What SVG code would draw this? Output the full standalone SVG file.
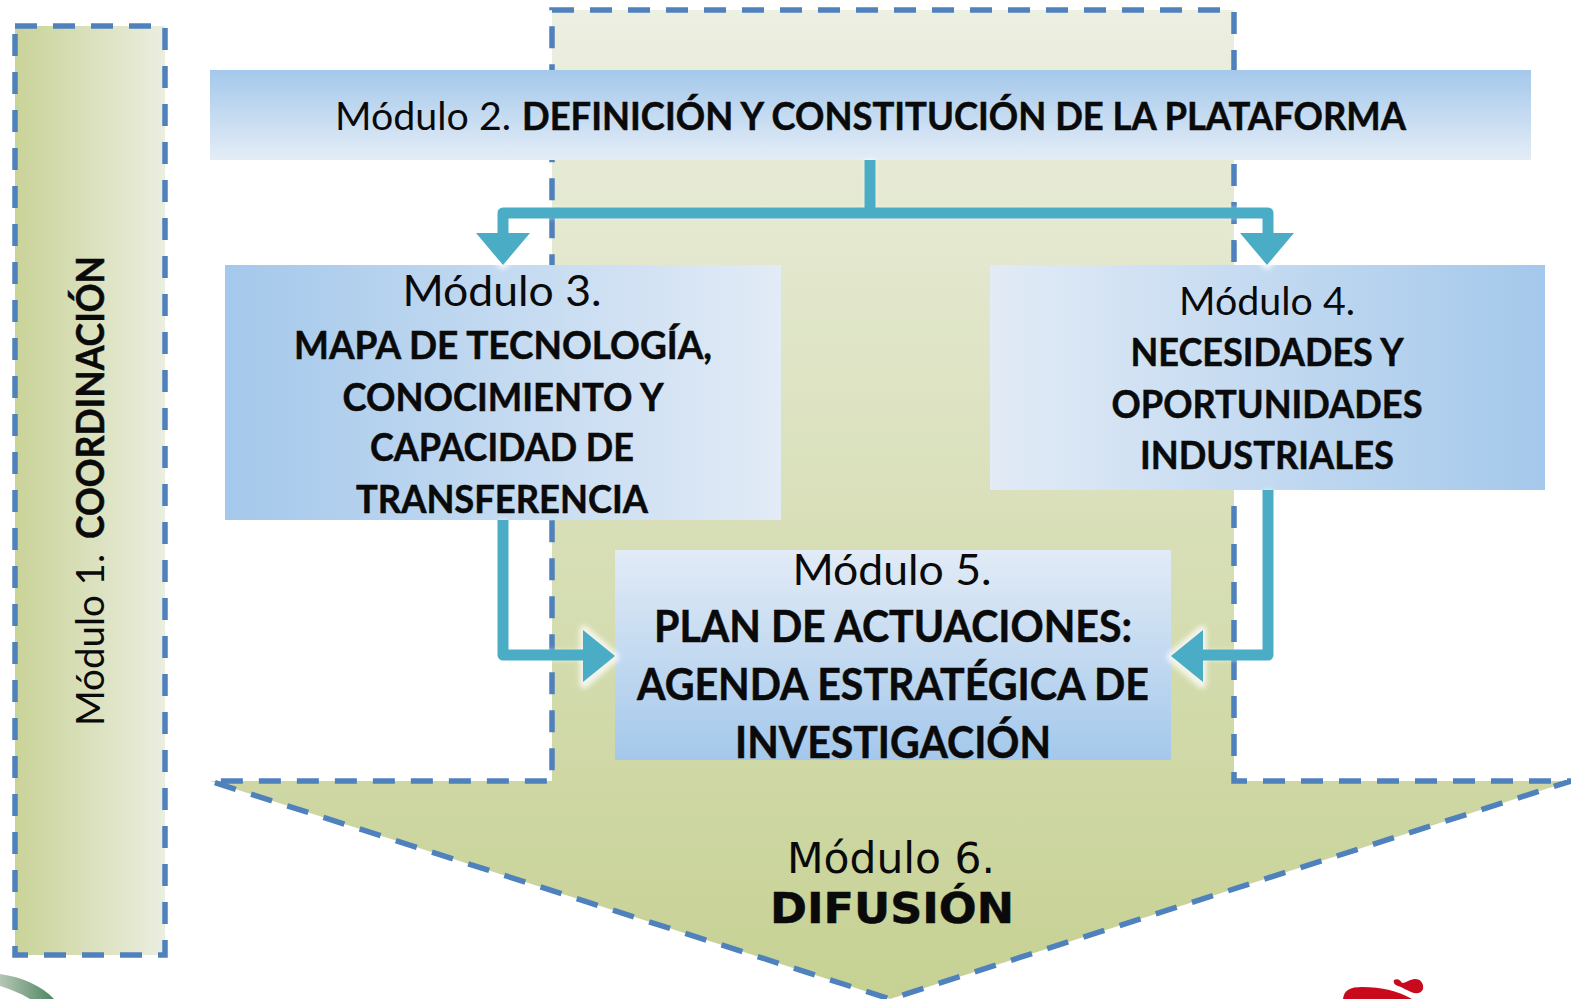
<svg xmlns="http://www.w3.org/2000/svg" width="1571" height="999" viewBox="0 0 1571 999">
<style>
text{font-family:Lato,"Liberation Sans",sans-serif;fill:#0a0a0a;text-anchor:middle}
.b{font-weight:700;stroke:#0a0a0a;stroke-width:.5}
.s{text-anchor:start}
.dash{stroke:#4f81bd;stroke-width:5.5;stroke-dasharray:22 16;fill:none}
.conn{stroke:#4bacc6;stroke-width:11;fill:none;stroke-linejoin:round}
.head{fill:#4bacc6}
.glow{stroke:#fff;stroke-opacity:.75;stroke-width:9;fill:none;stroke-linejoin:round}
</style>
<defs>
<filter id="soft" x="-5%" y="-5%" width="110%" height="110%"><feGaussianBlur stdDeviation="2.5"/></filter>
<linearGradient id="gLogo" x1="0" y1="0" x2="1" y2="0"><stop offset="0" stop-color="#b5c6b6"/><stop offset="1" stop-color="#4f8561"/></linearGradient>
<linearGradient id="gArrow" x1="0" y1="0" x2="0" y2="1"><stop offset="0" stop-color="#ecefe1"/><stop offset="1" stop-color="#c6d193"/></linearGradient>
<linearGradient id="gCoord" x1="0" y1="0" x2="1" y2="0"><stop offset="0" stop-color="#c9d398"/><stop offset="1" stop-color="#ebeee0"/></linearGradient>
<linearGradient id="gTop" x1="0" y1="0" x2="0" y2="1"><stop offset="0" stop-color="#a4c8eb"/><stop offset="1" stop-color="#e4edf7"/></linearGradient>
<linearGradient id="gM3" x1="0" y1="0" x2="1" y2="0"><stop offset="0" stop-color="#a4c8eb"/><stop offset="1" stop-color="#e2ebf6"/></linearGradient>
<linearGradient id="gM4" x1="1" y1="0" x2="0" y2="0"><stop offset="0" stop-color="#a4c8eb"/><stop offset="1" stop-color="#e2ebf6"/></linearGradient>
<linearGradient id="gM5" x1="0" y1="0" x2="0" y2="1"><stop offset="0" stop-color="#e2ebf6"/><stop offset="1" stop-color="#a4c8eb"/></linearGradient>
</defs>

<g id="logos">
<path d="M0 974C22 977 42 986 54 999H30C20 993 10 989 0 986Z" fill="url(#gLogo)"/>
<path d="M1343 999C1344 990 1350 987 1362 987C1382 987 1398 991 1412 999Z" fill="#c90a1c"/>
<path d="M1394 980C1398 978 1401 981 1402 983C1406 983 1410 979 1415 979C1421 979 1424 984 1423 989C1421 994 1416 994 1411 992C1406 990 1402 987 1398 986C1395 985 1393 983 1394 980Z" fill="#c90a1c"/>
</g>

<g id="modulo-1">
<rect x="15" y="26" width="150" height="929" fill="url(#gCoord)"/>
<rect class="dash" x="15" y="26" width="150" height="929"/>
<g transform="translate(104 0) rotate(-90)">
<text class="s" x="-726" y="0" font-size="38" textLength="172" lengthAdjust="spacingAndGlyphs">Módulo 1.</text>
<text class="s b" x="-539" y="0" font-size="38" textLength="283" lengthAdjust="spacingAndGlyphs">COORDINACIÓN</text>
</g>
</g>

<g id="modulo-6">
<path d="M552 10H1234V781H1571L890 999L210 781H552Z" fill="url(#gArrow)"/>
<path class="dash" d="M552 10H1234V781H1571L890 999L210 781H552Z"/>
<text x="891" y="873" font-size="43" style="font-family:'DejaVu Sans',sans-serif" textLength="208" lengthAdjust="spacingAndGlyphs">Módulo 6.</text>
<text x="892" y="923" font-size="43" class="b" style="font-family:'DejaVu Sans',sans-serif" textLength="244" lengthAdjust="spacingAndGlyphs">DIFUSIÓN</text>
</g>

<g id="modulo-2">
<rect x="210" y="70" width="1321" height="90" fill="url(#gTop)"/>
<text class="s" x="335" y="130" font-size="38" textLength="176" lengthAdjust="spacingAndGlyphs">Módulo 2.</text>
<text class="s b" x="522" y="130" font-size="38" textLength="884" lengthAdjust="spacingAndGlyphs">DEFINICIÓN Y CONSTITUCIÓN DE LA PLATAFORMA</text>
</g>

<g id="modulo-3">
<rect x="225" y="265" width="556" height="255" fill="url(#gM3)"/>
<text x="502" y="306" font-size="43" textLength="199" lengthAdjust="spacingAndGlyphs">Módulo 3.</text>
<text class="b" x="503" y="359" font-size="38" textLength="418" lengthAdjust="spacingAndGlyphs">MAPA DE TECNOLOGÍA,</text>
<text class="b" x="503" y="411" font-size="38" textLength="321" lengthAdjust="spacingAndGlyphs">CONOCIMIENTO Y</text>
<text class="b" x="502" y="461" font-size="38" textLength="264" lengthAdjust="spacingAndGlyphs">CAPACIDAD DE</text>
<text class="b" x="502" y="513" font-size="38" textLength="292" lengthAdjust="spacingAndGlyphs">TRANSFERENCIA</text>
</g>

<g id="modulo-4">
<rect x="990" y="265" width="555" height="225" fill="url(#gM4)"/>
<text x="1267" y="315" font-size="38" textLength="176" lengthAdjust="spacingAndGlyphs">Módulo 4.</text>
<text class="b" x="1267" y="366" font-size="38" textLength="273" lengthAdjust="spacingAndGlyphs">NECESIDADES Y</text>
<text class="b" x="1267" y="418" font-size="38" textLength="311" lengthAdjust="spacingAndGlyphs">OPORTUNIDADES</text>
<text class="b" x="1267" y="469" font-size="38" textLength="254" lengthAdjust="spacingAndGlyphs">INDUSTRIALES</text>
</g>

<g id="modulo-5">
<rect x="615" y="550" width="556" height="210" fill="url(#gM5)"/>
<text x="892" y="585" font-size="43" textLength="199" lengthAdjust="spacingAndGlyphs">Módulo 5.</text>
<text class="b" x="893" y="642" font-size="43" textLength="478" lengthAdjust="spacingAndGlyphs">PLAN DE ACTUACIONES:</text>
<text class="b" x="893" y="700" font-size="43" textLength="512" lengthAdjust="spacingAndGlyphs">AGENDA ESTRATÉGICA DE</text>
<text class="b" x="893" y="758" font-size="43" textLength="316" lengthAdjust="spacingAndGlyphs">INVESTIGACIÓN</text>
</g>

<g id="connectors">
<g filter="url(#soft)">
<path class="glow" d="M870 160V213M503 236V213H1268V236M503 520V655H584M1268 490V655H1202"/>
<path class="glow" d="M476 234H530L503 265ZM1240 234H1294L1267 265ZM584 630L615 657L584 684ZM1202 630L1171 657L1202 684Z"/>
</g>
<path class="conn" d="M870 160V213M503 236V213H1268V236M503 520V655H586M1268 490V655H1200"/>
<path class="head" d="M476 233H530L503 265ZM1240 233H1294L1267 265ZM583 630L615 656L583 682ZM1203 630L1171 656L1203 682Z"/>
</g>
</svg>
